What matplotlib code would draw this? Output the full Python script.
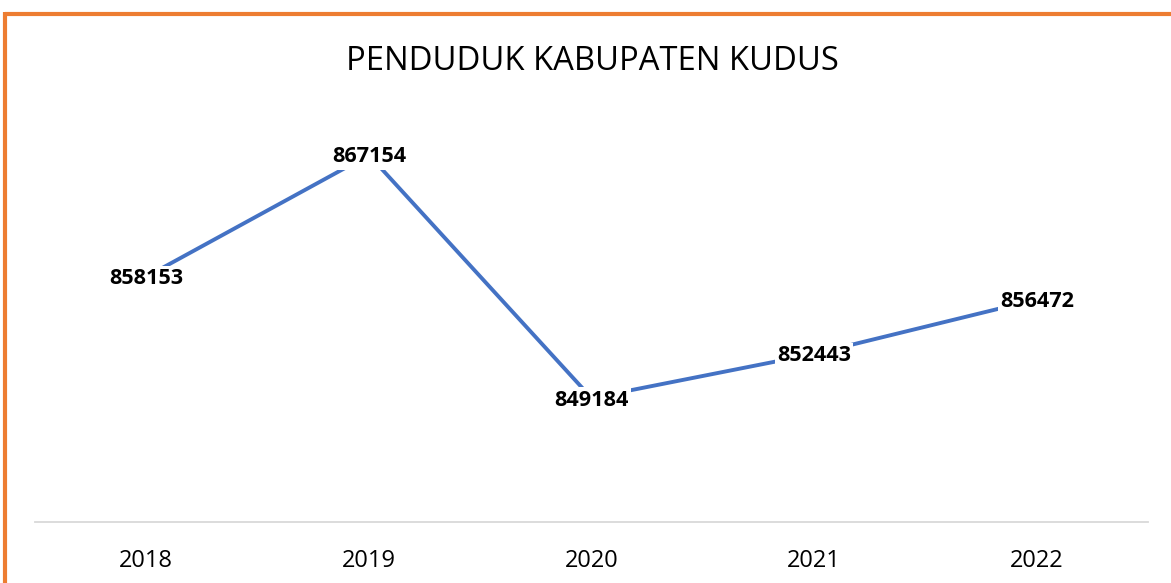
import matplotlib.pyplot as plt
from matplotlib.lines import Line2D

years = ['2018', '2019', '2020', '2021', '2022']
penduduk = [858153, 867154, 849184, 852443, 856472]

plt.rcParams['font.family'] = ['Open Sans', 'DejaVu Sans']

fig = plt.figure(figsize=(11.71, 5.83), dpi=100)
ax = fig.add_axes([35 / 1171, 60.8 / 583, 1113 / 1171, 405.7 / 583])

x = list(range(len(years)))
ax.plot(x, penduduk, color='#4472C4', linewidth=2.8, solid_capstyle='butt', zorder=2)
for xi, v in zip(x, penduduk):
    ax.annotate(str(v), (xi, v), xytext=(0, -2), textcoords='offset pixels',
                ha='center', va='center', fontsize=15.6, fontweight='bold',
                color='black', zorder=3,
                bbox=dict(boxstyle='square,pad=0.1', facecolor='white', edgecolor='none'))

ax.set_xlim(-0.5, len(years) - 0.5)
ax.set_ylim(840000, 870000)
ax.set_xticks(x)
ax.set_xticklabels(years, fontsize=17)
ax.set_yticks([])
ax.tick_params(axis='x', length=0, pad=19)
for s in ['top', 'right', 'left']:
    ax.spines[s].set_visible(False)
ax.spines['bottom'].set_color('#D9D9D9')
ax.spines['bottom'].set_linewidth(1.3)

fig.text(592.5 / 1171, 1 - 62 / 583, 'PENDUDUK KABUPATEN KUDUS', ha='center', va='center',
         fontsize=23.6, color='black')

# orange chart border (top and left)
oc = '#ED7D31'
fig.add_artist(Line2D([5.5 / 1171, 1], [1 - 13.5 / 583, 1 - 13.5 / 583], color=oc, linewidth=3,
                      transform=fig.transFigure, solid_capstyle='butt'))
fig.add_artist(Line2D([5.5 / 1171, 5.5 / 1171], [0, 1 - 12 / 583], color=oc, linewidth=3,
                      transform=fig.transFigure, solid_capstyle='butt'))

fig.savefig('out.png', dpi=100, facecolor='white')
